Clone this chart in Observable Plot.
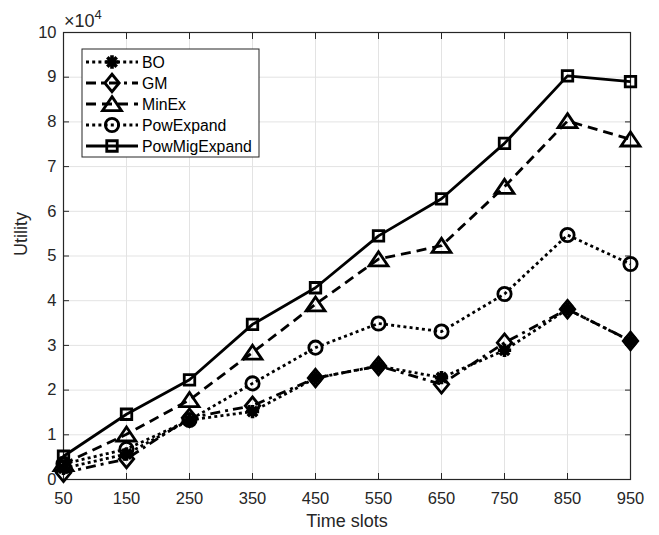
<!DOCTYPE html>
<html>
<head>
<meta charset="utf-8">
<script src="https://cdn.jsdelivr.net/npm/d3@7"></script>
<script src="https://cdn.jsdelivr.net/npm/@observablehq/plot@0.6"></script>
<style>
  body { margin: 0; background: #fff; }
  #chart svg { display: block; }
</style>
</head>
<body>
<div id="chart"></div>
<script>
// ---- data ----
const timeSlots = [50, 150, 250, 350, 450, 550, 650, 750, 850, 950];
const xTicks = [50, 150, 250, 350, 450, 550, 650, 750, 850, 950];
const yTicks = [0, 10000, 20000, 30000, 40000, 50000, 60000, 70000, 80000, 90000, 100000];
const seriesNames = ["BO", "GM", "MinEx", "PowExpand", "PowMigExpand"];
const boValues = [2500, 5700, 13300, 15200, 22700, 25400, 22800, 28900, 38100, 31000];
const gmValues = [1500, 4600, 13800, 16500, 22700, 25400, 21300, 30600, 38100, 31000];
const minExValues = [3500, 10100, 17800, 28400, 39200, 49300, 52300, 65500, 80200, 76100];
const powExpandValues = [3500, 6800, 13300, 21500, 29500, 34900, 33100, 41500, 54700, 48200];
const powMigExpandValues = [5200, 14600, 22300, 34700, 42900, 54500, 62800, 75200, 90300, 89000];

// ---- marker shapes (MATLAB-like, unfilled) ----
const rad = size => Math.sqrt(size / Math.PI);
const symAsterisk = {draw(c, size) {
  const r = rad(size) * 0.95, d = r * Math.SQRT1_2;
  c.moveTo(-r, 0); c.lineTo(r, 0);
  c.moveTo(0, -r); c.lineTo(0, r);
  c.moveTo(-d, -d); c.lineTo(d, d);
  c.moveTo(-d, d); c.lineTo(d, -d);
}};
const symDiamond = {draw(c, size) {
  const r = rad(size);
  c.moveTo(0, -1.25 * r); c.lineTo(1.03 * r, 0); c.lineTo(0, 1.25 * r); c.lineTo(-1.03 * r, 0); c.closePath();
}};
const symTriangle = {draw(c, size) {
  const r = rad(size);
  c.moveTo(0, -1.05 * r); c.lineTo(1.35 * r, 0.95 * r); c.lineTo(-1.35 * r, 0.95 * r); c.closePath();
}};
const symCircle = {draw(c, size) {
  const r = rad(size) * 0.95;
  c.moveTo(r, 0); c.arc(0, 0, r, 0, 2 * Math.PI);
}};
const symSquare = {draw(c, size) {
  const h = rad(size) * 0.75;
  c.rect(-h, -h, 2 * h, 2 * h);
}};

const seriesValues = [boValues, gmValues, minExValues, powExpandValues, powMigExpandValues];
const seriesStyle = [
  {symbol: symAsterisk, dash: "3,3.2", mw: 3.6},
  {symbol: symDiamond, dash: "10,5,3,5", mw: 2.8},
  {symbol: symTriangle, dash: "10,6", mw: 2.8},
  {symbol: symCircle, dash: "3,3.2", mw: 2.8},
  {symbol: symSquare, dash: null, mw: 2.8}
];
const R = 7;
const INK = "#000";
const LW = 2.8;

const series = seriesNames.map((name, i) => ({
  name,
  rows: timeSlots.map((t, j) => ({t, v: seriesValues[i][j]})),
  ...seriesStyle[i]
}));

const marks = [
  Plot.gridX({ticks: xTicks, stroke: "#e3e3e3", strokeOpacity: 1}),
  Plot.gridY({ticks: yTicks, stroke: "#e3e3e3", strokeOpacity: 1}),
  // inward ticks on all four sides
  Plot.axisX({ticks: xTicks, anchor: "bottom", tickSize: 6, text: null, dy: -6, stroke: "#262626", label: null}),
  Plot.axisX({ticks: xTicks, anchor: "top", tickSize: 6, text: null, dy: 6, stroke: "#262626", label: null}),
  Plot.axisY({ticks: yTicks, anchor: "left", tickSize: 6, text: null, dx: 6, stroke: "#262626", label: null}),
  Plot.axisY({ticks: yTicks, anchor: "right", tickSize: 6, text: null, dx: -6, stroke: "#262626", label: null}),
  // tick labels
  Plot.axisX({ticks: xTicks, anchor: "bottom", tickSize: 0, tickPadding: 13, label: null, fill: "#262626", fontSize: 16.5}),
  Plot.axisY({ticks: yTicks, anchor: "left", tickSize: 0, tickPadding: 7, label: null, fill: "#262626", fontSize: 16.5,
    tickFormat: d => String(d / 10000)}),
  Plot.frame({stroke: "#262626", strokeWidth: 1.2}),
];
for (const s of series) {
  marks.push(Plot.line(s.rows, {x: "t", y: "v", stroke: INK, strokeWidth: LW,
    strokeDasharray: s.dash || undefined, strokeLinecap: "butt", strokeLinejoin: "round"}));
  marks.push(Plot.dot(s.rows, {x: "t", y: "v", r: R, symbol: s.symbol, stroke: INK, fill: "none", strokeWidth: s.mw}));
}
marks.push(Plot.text(["Time slots"], {text: d => d, frameAnchor: "bottom", dy: 47, fontSize: 18, fill: "#262626"}));
marks.push(Plot.text(["Utility"], {text: d => d, frameAnchor: "left", dx: -42, rotate: -90, fontSize: 18, fill: "#262626"}));

const chart = Plot.plot({
  width: 659,
  height: 535,
  marginLeft: 63,
  marginRight: 29,
  marginTop: 32,
  marginBottom: 56,
  style: {fontFamily: "'Liberation Sans', Arial, Helvetica, sans-serif", fontSize: "16.5px", background: "#fff", color: "#262626"},
  x: {domain: [50, 950]},
  y: {domain: [0, 100000]},
  marks
});
document.getElementById("chart").appendChild(chart);

// ---- exponent label and legend ----
const svg = d3.select(chart);
const ex = svg.append("text")
  .attr("x", 64).attr("y", 27).attr("text-anchor", "start")
  .attr("font-size", 18).attr("fill", "#262626");
ex.append("tspan").text("×10");
ex.append("tspan").attr("dy", -8).attr("font-size", 13).text("4");

const lg = svg.append("g").attr("transform", "translate(82,49)").attr("text-anchor", "start");
lg.append("rect").attr("width", 177).attr("height", 108).attr("fill", "#fff").attr("stroke", "#262626").attr("stroke-width", 1);
series.forEach((s, i) => {
  const y = 13 + i * 21;
  const row = lg.append("g").attr("transform", `translate(0,${y})`);
  row.append("line").attr("x1", 4).attr("x2", 56).attr("y1", 0).attr("y2", 0)
    .attr("stroke", INK).attr("stroke-width", LW)
    .attr("stroke-dasharray", s.dash || null);
  row.append("path").attr("transform", "translate(30,0)")
    .attr("d", d3.symbol(s.symbol, Math.PI * R * R)())
    .attr("fill", "none").attr("stroke", INK).attr("stroke-width", s.mw);
  row.append("text").attr("x", 60).attr("y", 0).attr("dy", "0.35em").attr("text-anchor", "start")
    .attr("font-size", 15.8).attr("fill", "#000").text(s.name);
});
</script>
</body>
</html>
